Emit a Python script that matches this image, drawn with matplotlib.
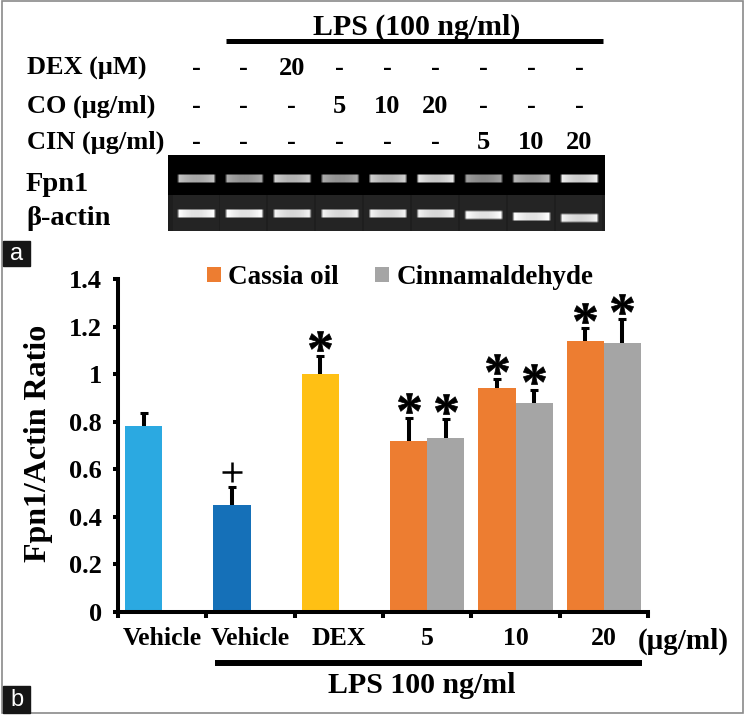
import numpy as np
import matplotlib
matplotlib.use('Agg')
import matplotlib.pyplot as plt
from matplotlib.patches import Rectangle
from matplotlib.textpath import TextPath
from matplotlib.font_manager import FontProperties
from matplotlib.path import Path

plt.rcParams['font.family'] = 'Liberation Serif'
plt.rcParams['font.weight'] = 'bold'

# ---- panel a: treatment table + gel ----
row_labels = ['DEX (\u03bcM)', 'CO (\u03bcg/ml)', 'CIN (\u03bcg/ml)']
dex_row = ['-', '-', '20', '-', '-', '-', '-', '-', '-']
co_row = ['-', '-', '-', '5', '10', '20', '-', '-', '-']
cin_row = ['-', '-', '-', '-', '-', '-', '5', '10', '20']
# relative band brightness per lane
fpn1_band = [0.80, 0.70, 0.85, 0.70, 0.85, 0.95, 0.65, 0.75, 0.97]
actin_band = [0.90, 0.90, 0.85, 0.85, 0.85, 0.85, 0.90, 0.90, 0.85]

# ---- panel b: bar chart ----
categories = ['Vehicle', 'Vehicle', 'DEX', '5', '10', '20']
single_vals = [0.78, 0.45, 1.00]
single_err = [0.055, 0.075, 0.075]
single_marks = ['', '+', '*']
cassia = [0.72, 0.94, 1.14]
cassia_err = [0.095, 0.04, 0.055]
cinn = [0.73, 0.88, 1.13]
cinn_err = [0.08, 0.055, 0.10]

single_colors = ['#2BA9E1', '#1570B8', '#FFC014']
c_cassia = '#ED7D31'
c_cinn = '#A5A5A5'

fig = plt.figure(figsize=(7.46, 7.15), dpi=100)
bg = fig.add_axes([0, 0, 1, 1])
bg.axis('off')

# outer frame
bg.add_patch(Rectangle((2, 1), 741, 712, fill=False, edgecolor='#8a8a8a', lw=1.2))

lanes = np.linspace(196, 579, 9)

bg.text(417, 35, 'LPS (100 ng/ml)', ha='center', va='baseline', fontsize=21.5)
bg.plot([226, 603], [40.5, 40.5], color='black', lw=3.6, solid_capstyle='butt')

baselines = [75, 113, 149]
for lab, vals, yb in zip(row_labels, [dex_row, co_row, cin_row], baselines):
    bg.text(27, yb, lab, ha='left', va='baseline', fontsize=19)
    for lx, v in zip(lanes, vals):
        bg.text(lx, yb, v, ha='center', va='baseline', fontsize=19)

# gel picture
gx0, gx1, gy0, gy1 = 168, 605, 155, 231
H, W = gy1 - gy0, gx1 - gx0
img = np.zeros((H, W))
split = 40
img[split:, :] = 0.12
xs = np.arange(W)
ys = np.arange(H)
for i, lx in enumerate(lanes):
    cx = lx - gx0
    img[split:, int(cx - 23):int(cx + 23)] += 0.025
    fx = np.clip((19.5 - np.abs(xs - cx)) / 2.5, 0, 1)
    fx = fx * (0.82 + 0.18 * (np.abs(xs - cx) / 19.5) ** 2)
    fy1 = np.clip((5.0 - np.abs(ys - 23)) / 2.0, 0, 1)
    cy2 = 58 + max(0, i - 5) * 1.5
    fy2 = np.clip((5.0 - np.abs(ys - cy2)) / 2.0, 0, 1)
    img += fpn1_band[i] * np.outer(fy1, fx)
    img += actin_band[i] * np.outer(fy2, fx)
img = np.clip(img, 0, 1)
bg.imshow(img, cmap='gray', vmin=0, vmax=1, extent=(gx0, gx1, gy1, gy0),
          aspect='auto', interpolation='bilinear')

bg.text(26, 191, 'Fpn1', ha='left', va='baseline', fontsize=20.5)
bg.text(26, 225, '\u03b2-actin', ha='left', va='baseline', fontsize=20.5)

# panel tags
for tag, y0, h in [('a', 241, 25), ('b', 686, 27)]:
    bg.add_patch(Rectangle((3, y0), 27, h, color='#161616'))
    bg.text(16.5, y0 + h / 2 + 1, tag, ha='center', va='center', color='white',
            fontsize=17, family='Liberation Sans', weight='normal')

# bottom LPS bar
bg.plot([215, 642], [663, 663], color='black', lw=4.3, solid_capstyle='butt')
bg.text(422, 693, 'LPS 100 ng/ml', ha='center', va='baseline', fontsize=21.5)
bg.text(683, 649, '(\u03bcg/ml)', ha='center', va='baseline', fontsize=21)

bg.set_xlim(0, 746)
bg.set_ylim(715, 0)

# ---- bar chart ----
ax = fig.add_axes([118 / 746, 1 - 612 / 715, 530 / 746, 333 / 715])
x = np.arange(len(categories))
w = 0.422

ax.bar(x[:3] - w / 2, single_vals, w, color=single_colors, lw=0)
b_cas = ax.bar(x[3:] - w / 2, cassia, w, color=c_cassia, lw=0, label='Cassia oil')
b_cin = ax.bar(x[3:] + w / 2, cinn, w, color=c_cinn, lw=0, label='Cinnamaldehyde')

# asterisk glyph as a centred marker path
fp = FontProperties(family='Liberation Serif', weight='bold')
tp = TextPath((0, 0), '*', size=10, prop=fp)
v = tp.vertices.copy()
real = tp.codes != Path.CLOSEPOLY
mid = (v[real].min(axis=0) + v[real].max(axis=0)) / 2
v[~real] = mid
star = Path(v - mid, tp.codes)

xc = np.concatenate([x[:3] - w / 2, x[3:] - w / 2, x[3:] + w / 2])
vals = np.array(single_vals + cassia + cinn)
errs = np.array(single_err + cassia_err + cinn_err)
marks = single_marks + ['*'] * 6
tops = vals + errs
ax.vlines(xc, vals, tops, color='black', lw=2.9, zorder=3)
ax.plot(xc, tops, ls='none', marker='_', ms=5.5, mew=2.2, color='black', zorder=3)
off = 0.064
for xi, t, m in zip(xc, tops, marks):
    if m == '*':
        ax.plot(xi, t + off, ls='none', marker=star, ms=16, mew=0.5, color='black',
                clip_on=False, zorder=4)
    elif m == '+':
        ax.plot(xi, t + off, ls='none', marker='+', ms=14, mew=1.8, color='black',
                clip_on=False, zorder=4)

ax.set_xlim(-0.5, 5.5)
ax.set_ylim(0, 1.4)
ax.set_xticks(x)
ax.set_xticklabels(categories)
ax.set_xticks(np.arange(-0.5, 6, 1), minor=True)
ax.tick_params(axis='x', which='major', length=0, pad=11, labelsize=18.5)
ax.tick_params(axis='x', which='minor', length=4.5, width=2.9, direction='out')
yt = np.arange(0, 1.41, 0.2)
ax.set_yticks(yt)
ax.set_yticklabels(['0', '0.2', '0.4', '0.6', '0.8', '1', '1.2', '1.4'])
ax.tick_params(axis='y', length=3.6, width=2.9, pad=8, labelsize=19)
for s in ['top', 'right']:
    ax.spines[s].set_visible(False)
for s in ['left', 'bottom']:
    ax.spines[s].set_linewidth(2.9)
ax.patch.set_alpha(0)

ax.set_ylabel('Fpn1/Actin Ratio', fontsize=23, fontweight='bold')
ax.yaxis.set_label_coords(-0.122, 0.505)

ax.legend([b_cas, b_cin], ['Cassia oil', 'Cinnamaldehyde'], loc='center left',
          bbox_to_anchor=(207, 277.5), bbox_transform=bg.transData, ncol=2,
          frameon=False, fontsize=19.5, handlelength=0.5, handleheight=0.5,
          handletextpad=0.28, columnspacing=1.35, borderpad=0, borderaxespad=0)

fig.savefig('out.png', dpi=100)
